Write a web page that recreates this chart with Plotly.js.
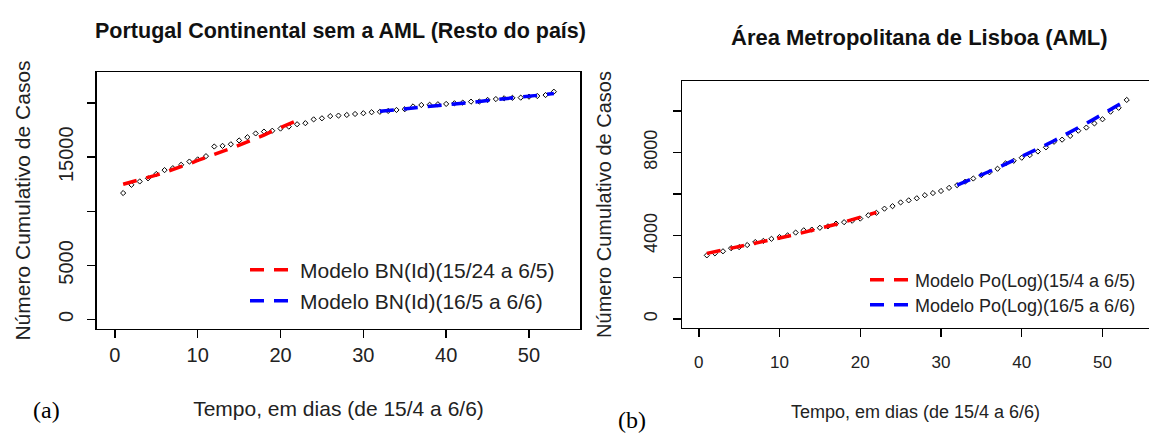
<!DOCTYPE html>
<html><head><meta charset="utf-8">
<script src="https://cdn.plot.ly/plotly-3.0.1.min.js"></script>
<style>html,body{margin:0;padding:0;background:#fff}</style>
</head><body><div id="chart" style="width:1149px;height:433px"></div>
<script>
// ---- data ----
const days = [1,2,3,4,5,6,7,8,9,10,11,12,13,14,15,16,17,18,19,20,21,22,23,24,25,26,27,28,29,30,31,32,33,34,35,36,37,38,39,40,41,42,43,44,45,46,47,48,49,50,51,52,53];
const daysFit1 = [1,2,3,4,5,6,7,8,9,10,11,12,13,14,15,16,17,18,19,20,21,22];
const daysFit2 = [32,33,34,35,36,37,38,39,40,41,42,43,44,45,46,47,48,49,50,51,52,53];

// Portugal Continental sem a AML (Resto do país)
const obsResto = [11690,12450,12760,13050,13450,13810,13990,14300,14600,14800,15100,15990,16050,16200,16550,16850,17200,17370,17450,17650,17830,18050,18150,18500,18600,18800,18850,18910,19000,19070,19160,19200,19280,19370,19440,19700,19830,19850,19900,19930,19990,20050,20140,20150,20300,20380,20450,20490,20510,20600,20660,20750,21060];
const fitResto1 = [12500,12700,12950,13150,13350,13600,13850,14100,14400,14700,15000,15250,15550,15800,16100,16400,16750,17050,17400,17750,18100,18400];
const fitResto2 = [19250,19320,19390,19470,19560,19640,19720,19790,19860,19930,19990,20060,20150,20250,20320,20400,20470,20530,20600,20700,20800,20900];

// Área Metropolitana de Lisboa (AML)
const obsAML = [3054,3150,3250,3400,3450,3550,3695,3750,3850,3936,4016,4150,4260,4293,4380,4450,4582,4650,4720,4823,4983,5100,5300,5420,5600,5700,5800,5948,6050,6150,6300,6430,6600,6750,6912,7050,7220,7477,7600,7750,7877,8050,8250,8518,8620,8800,9050,9200,9400,9600,9965,10150,10530];
const fitAML1 = [3150,3230,3300,3380,3450,3530,3610,3700,3790,3880,3970,4060,4150,4250,4350,4450,4550,4660,4770,4880,5000,5120];
const fitAML2 = [6430,6590,6750,6920,7090,7260,7440,7620,7800,7990,8180,8370,8570,8770,8980,9190,9400,9620,9840,10060,10290,10520];

const xTicks = [0,10,20,30,40,50];
const yTicksResto = [0,5000,10000,15000,20000];
const yTextResto = ['0','5000','','15000',''];
const yTicksAML = [0,2000,4000,6000,8000,10000];
const yTextAML = ['0','','4000','','8000',''];

const legResto1 = 'Modelo BN(Id)(15/24 a 6/5)';
const legResto2 = 'Modelo BN(Id)(16/5 a 6/6)';
const legAML1 = 'Modelo Po(Log)(15/4 a 6/5)';
const legAML2 = 'Modelo Po(Log)(16/5 a 6/6)';

const F = 'Liberation Sans, Arial, sans-serif';
const RED = '#ff0000', BLUE = '#0000ff';

const traces = [
  {x: days, y: obsResto, xaxis:'x', yaxis:'y', mode:'markers', showlegend:false,
   marker:{symbol:'diamond-open', size:4, color:'#000', line:{width:1, color:'#000'}}},
  {x: daysFit1, y: fitResto1, xaxis:'x', yaxis:'y', mode:'lines', name: legResto1, legend:'legend',
   line:{color:RED, width:3.5, dash:'14px,10px'}},
  {x: daysFit2, y: fitResto2, xaxis:'x', yaxis:'y', mode:'lines', name: legResto2, legend:'legend2',
   line:{color:BLUE, width:3.5, dash:'14px,10px'}},
  {x: days, y: obsAML, xaxis:'x2', yaxis:'y2', mode:'markers', showlegend:false,
   marker:{symbol:'diamond-open', size:4, color:'#000', line:{width:1, color:'#000'}}},
  {x: daysFit1, y: fitAML1, xaxis:'x2', yaxis:'y2', mode:'lines', name: legAML1, legend:'legend3',
   line:{color:RED, width:3.5, dash:'14px,10px'}},
  {x: daysFit2, y: fitAML2, xaxis:'x2', yaxis:'y2', mode:'lines', name: legAML2, legend:'legend4',
   line:{color:BLUE, width:3.5, dash:'14px,10px'}}
];

function axisBase(extra){
  return Object.assign({
    showline:true, mirror:true, linecolor:'#000', linewidth:1.5,
    ticks:'outside', ticklen:8, tickwidth:1.5, tickcolor:'#000',
    showgrid:false, zeroline:false, fixedrange:true
  }, extra);
}
function leg(x, y, size, iw){
  return {x:x, y:y, xanchor:'left', yanchor:'middle', bgcolor:'rgba(0,0,0,0)',
          borderwidth:0, itemwidth:iw, font:{family:F, size:size, color:'#222'}};
}

const layout = {
  width:1149, height:433,
  margin:{l:0, r:0, t:0, b:0},
  paper_bgcolor:'#fff', plot_bgcolor:'#fff',
  showlegend:true,
  xaxis: axisBase({domain:[0.0844,0.5048], anchor:'y', range:[-2.16,56.16],
    tickmode:'array', tickvals:xTicks, tickfont:{family:F, size:20, color:'#222'},
    title:{text:'Tempo, em dias (de 15/4 a 6/6)', font:{family:F, size:21, color:'#222'}, standoff:36}}),
  yaxis: axisBase({domain:[0.2402,0.8337], anchor:'x', range:[-880,22880],
    tickmode:'array', tickvals:yTicksResto, ticktext:yTextResto, tickangle:-90, ticklabelstandoff:6,
    tickfont:{family:F, size:20, color:'#222'},
    title:{text:'Número Cumulativo de Casos', font:{family:F, size:21, color:'#222'}, standoff:19}}),
  xaxis2: axisBase({domain:[0.5936,1], anchor:'y2', range:[-2.07,55.76], ticklabelstandoff:10,
    tickmode:'array', tickvals:xTicks, tickfont:{family:F, size:17, color:'#222'},
    title:{text:'Tempo, em dias (de 15/4 a 6/6)', font:{family:F, size:18, color:'#222'}, standoff:34}}),
  yaxis2: axisBase({domain:[0.2425,0.8129], anchor:'x2', range:[-440,11440], ticklabelstandoff:8,
    tickmode:'array', tickvals:yTicksAML, ticktext:yTextAML, tickangle:-90,
    tickfont:{family:F, size:18, color:'#222'},
    title:{text:'Número Cumulativo de Casos', font:{family:F, size:20, color:'#222'}, standoff:24}}),
  legend: leg(245/1149, 1-270/433, 21, 45),
  legend2: leg(245/1149, 1-301/433, 21, 45),
  legend3: leg(865/1149, 1-280/433, 18, 40),
  legend4: leg(865/1149, 1-305/433, 18, 40),
  annotations:[
    {text:'<b>Portugal Continental sem a AML (Resto do país)</b>', xref:'paper', yref:'paper',
     x:340/1149, y:1-31/433, xanchor:'center', yanchor:'middle', showarrow:false,
     font:{family:F, size:21.5, color:'#111'}},
    {text:'<b>Área Metropolitana de Lisboa (AML)</b>', xref:'paper', yref:'paper',
     x:919/1149, y:1-37/433, xanchor:'center', yanchor:'middle', showarrow:false,
     font:{family:F, size:22, color:'#111'}},
    {text:'(a)', xref:'paper', yref:'paper', x:46/1149, y:1-410/433, xanchor:'center', yanchor:'middle',
     showarrow:false, font:{family:'Liberation Serif, Times New Roman, serif', size:24, color:'#000'}},
    {text:'(b)', xref:'paper', yref:'paper', x:632/1149, y:1-420/433, xanchor:'center', yanchor:'middle',
     showarrow:false, font:{family:'Liberation Serif, Times New Roman, serif', size:24, color:'#000'}}
  ]
};

Plotly.newPlot('chart', traces, layout, {staticPlot:true, displayModeBar:false});
</script></body></html>
